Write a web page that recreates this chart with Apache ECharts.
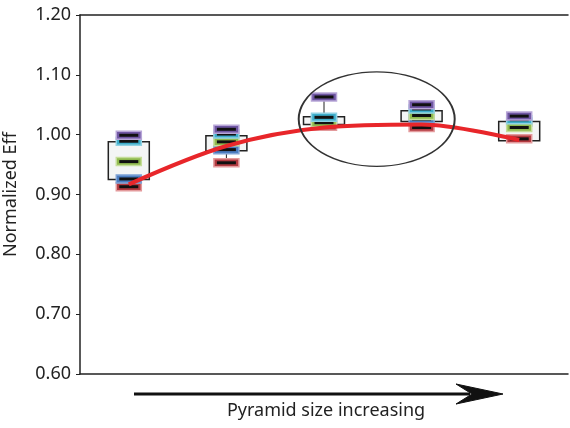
<!DOCTYPE html>
<html><head><meta charset="utf-8">
<script src="https://cdn.jsdelivr.net/npm/echarts@6/dist/echarts.min.js"></script>
<style>html,body{margin:0;padding:0;background:#fff}#c{width:570px;height:428px}</style>
</head><body><div id="c"></div>
<script>
var categories = ['1', '2', '3', '4', '5'];
var yTicks = [0.60, 0.70, 0.80, 0.90, 1.00, 1.10, 1.20];
// box statistics: [whisker low, box low, box high, whisker high]
var boxLow    = [0.915, 0.953, 1.015, 1.012, 0.990];
var boxQ1     = [0.925, 0.973, 1.017, 1.022, 0.990];
var boxQ3     = [0.988, 0.998, 1.030, 1.040, 1.022];
var boxHigh   = [0.997, 1.008, 1.063, 1.050, 1.030];
// markers per category
var redVals    = [0.913, 0.953, 1.014, 1.012, 0.993];
var blueVals   = [0.926, 0.975, 1.024, 1.026, 1.021];
var greenVals  = [0.955, 0.988, 1.020, 1.032, 1.012];
var cyanVals   = [0.989, 1.001, 1.029, 1.043, 1.025];
var purpleVals = [0.999, 1.009, 1.063, 1.050, 1.031];
// trend curve
var trendVals = [0.917, 0.981, 1.012, 1.017, 0.991];

var markerStyles = [
  {name: 'red', vals: redVals, fill: '#b23a40', stroke: '#e39a9c'},
  {name: 'blue', vals: blueVals, fill: '#4a7cc0', stroke: '#7ea3d6'},
  {name: 'green', vals: greenVals, fill: '#8fba4e', stroke: '#c5de9a'},
  {name: 'cyan', vals: cyanVals, fill: '#3eaecb', stroke: '#8fd2e3'},
  {name: 'purple', vals: purpleVals, fill: '#6f56a3', stroke: '#b8a6d8'}
];

var boxData = categories.map(function (c, i) { return [i, boxLow[i], boxQ1[i], boxQ3[i], boxHigh[i]]; });

var markerSeries = markerStyles.map(function (m) {
  return {
    type: 'custom', name: m.name, z: 5,
    data: m.vals.map(function (v, i) { return [i, v]; }),
    renderItem: function (params, api) {
      var p = api.coord([api.value(0), api.value(1)]);
      var w = 25, h = 8;
      return {type: 'group', children: [
        {type: 'rect', shape: {x: p[0] - w / 2, y: p[1] - h / 2, width: w, height: h},
         style: {fill: m.fill, stroke: m.stroke, lineWidth: 1.5}},
        {type: 'rect', shape: {x: p[0] - 9.5, y: p[1] - 1.5, width: 19, height: 3},
         style: {fill: '#111'}}
      ]};
    }
  };
});

var chart = echarts.init(document.getElementById('c'));
var font = 'Noto Sans, Open Sans, sans-serif';
chart.setOption({
  animation: false,
  grid: {left: 80, right: 2, top: 15, bottom: 54, outerBoundsMode: 'none', containLabel: false},
  xAxis: [
    {type: 'category', data: categories, position: 'bottom',
     axisLine: {lineStyle: {color: '#222', width: 1.5}}, axisTick: {show: false}, axisLabel: {show: false}},
    {type: 'category', data: categories, position: 'top',
     axisLine: {lineStyle: {color: '#222', width: 1.5}}, axisTick: {show: false}, axisLabel: {show: false}}
  ],
  yAxis: {
    type: 'value', min: 0.6, max: 1.2, interval: 0.1,
    name: 'Normalized Eff', nameLocation: 'middle', nameGap: 60, nameRotate: 90,
    nameTextStyle: {fontFamily: font, fontSize: 18, color: '#222'},
    axisLine: {show: true, lineStyle: {color: '#222', width: 1.5}},
    axisTick: {show: true, length: 4, lineStyle: {color: '#222'}},
    splitLine: {show: false},
    axisLabel: {fontFamily: font, fontSize: 18, color: '#222', margin: 9,
      formatter: function (v) { return v.toFixed(2); }}
  },
  series: [
    {
      type: 'custom', name: 'box', z: 3,
      data: boxData,
      renderItem: function (params, api) {
        var x = api.value(0);
        var pLow = api.coord([x, api.value(1)]);
        var pQ1 = api.coord([x, api.value(2)]);
        var pQ3 = api.coord([x, api.value(3)]);
        var pHigh = api.coord([x, api.value(4)]);
        var w = api.size([1, 0])[0] * 0.42;
        return {type: 'group', children: [
          {type: 'line', shape: {x1: pQ3[0], y1: pQ3[1], x2: pHigh[0], y2: pHigh[1]}, style: {stroke: '#222', lineWidth: 1}},
          {type: 'line', shape: {x1: pQ1[0], y1: pQ1[1], x2: pLow[0], y2: pLow[1]}, style: {stroke: '#222', lineWidth: 1}},
          {type: 'rect', shape: {x: pQ3[0] - w / 2, y: pQ3[1], width: w, height: pQ1[1] - pQ3[1]},
           style: {fill: '#f3f5f5', stroke: '#222', lineWidth: 1.5}}
        ]};
      }
    }
  ].concat(markerSeries).concat([
    {
      type: 'line', name: 'trend', z: 8, data: trendVals, smooth: 0.33, symbol: 'none',
      lineStyle: {color: '#e8262a', width: 4}
    }
  ])
});

// annotations: ellipse and arrow
var c3 = chart.convertToPixel({xAxisIndex: 0, yAxisIndex: 0}, [2, 1.026]);
var c4 = chart.convertToPixel({xAxisIndex: 0, yAxisIndex: 0}, [3, 1.026]);
var topP = chart.convertToPixel({xAxisIndex: 0, yAxisIndex: 0}, [2, 1.105]);
var cx = c3[0] + (c4[0] - c3[0]) * 0.54, cy = c3[1];
var ry = cy - topP[1], rx = 78;
chart.setOption({
  graphic: [
    {type: 'circle', x: cx, y: cy, scaleX: rx / ry, scaleY: 1, shape: {cx: 0, cy: 0, r: ry},
     style: {fill: 'none', stroke: '#333', lineWidth: 1.2, strokeNoScale: true}, z: 10},
    {type: 'line', shape: {x1: 134, y1: 394, x2: 470, y2: 394}, style: {stroke: '#111', lineWidth: 3}},
    {type: 'polygon', shape: {points: [[456, 384], [503, 394], [456, 404], [472, 394]]},
     style: {fill: '#111', stroke: '#111', lineWidth: 1, lineJoin: 'round'}},
    {type: 'text', x: 326, y: 411,
     style: {text: 'Pyramid size increasing', fontFamily: font, fontSize: 18, fill: '#222',
       textAlign: 'center', textVerticalAlign: 'middle'}}
  ]
});
</script></body></html>
